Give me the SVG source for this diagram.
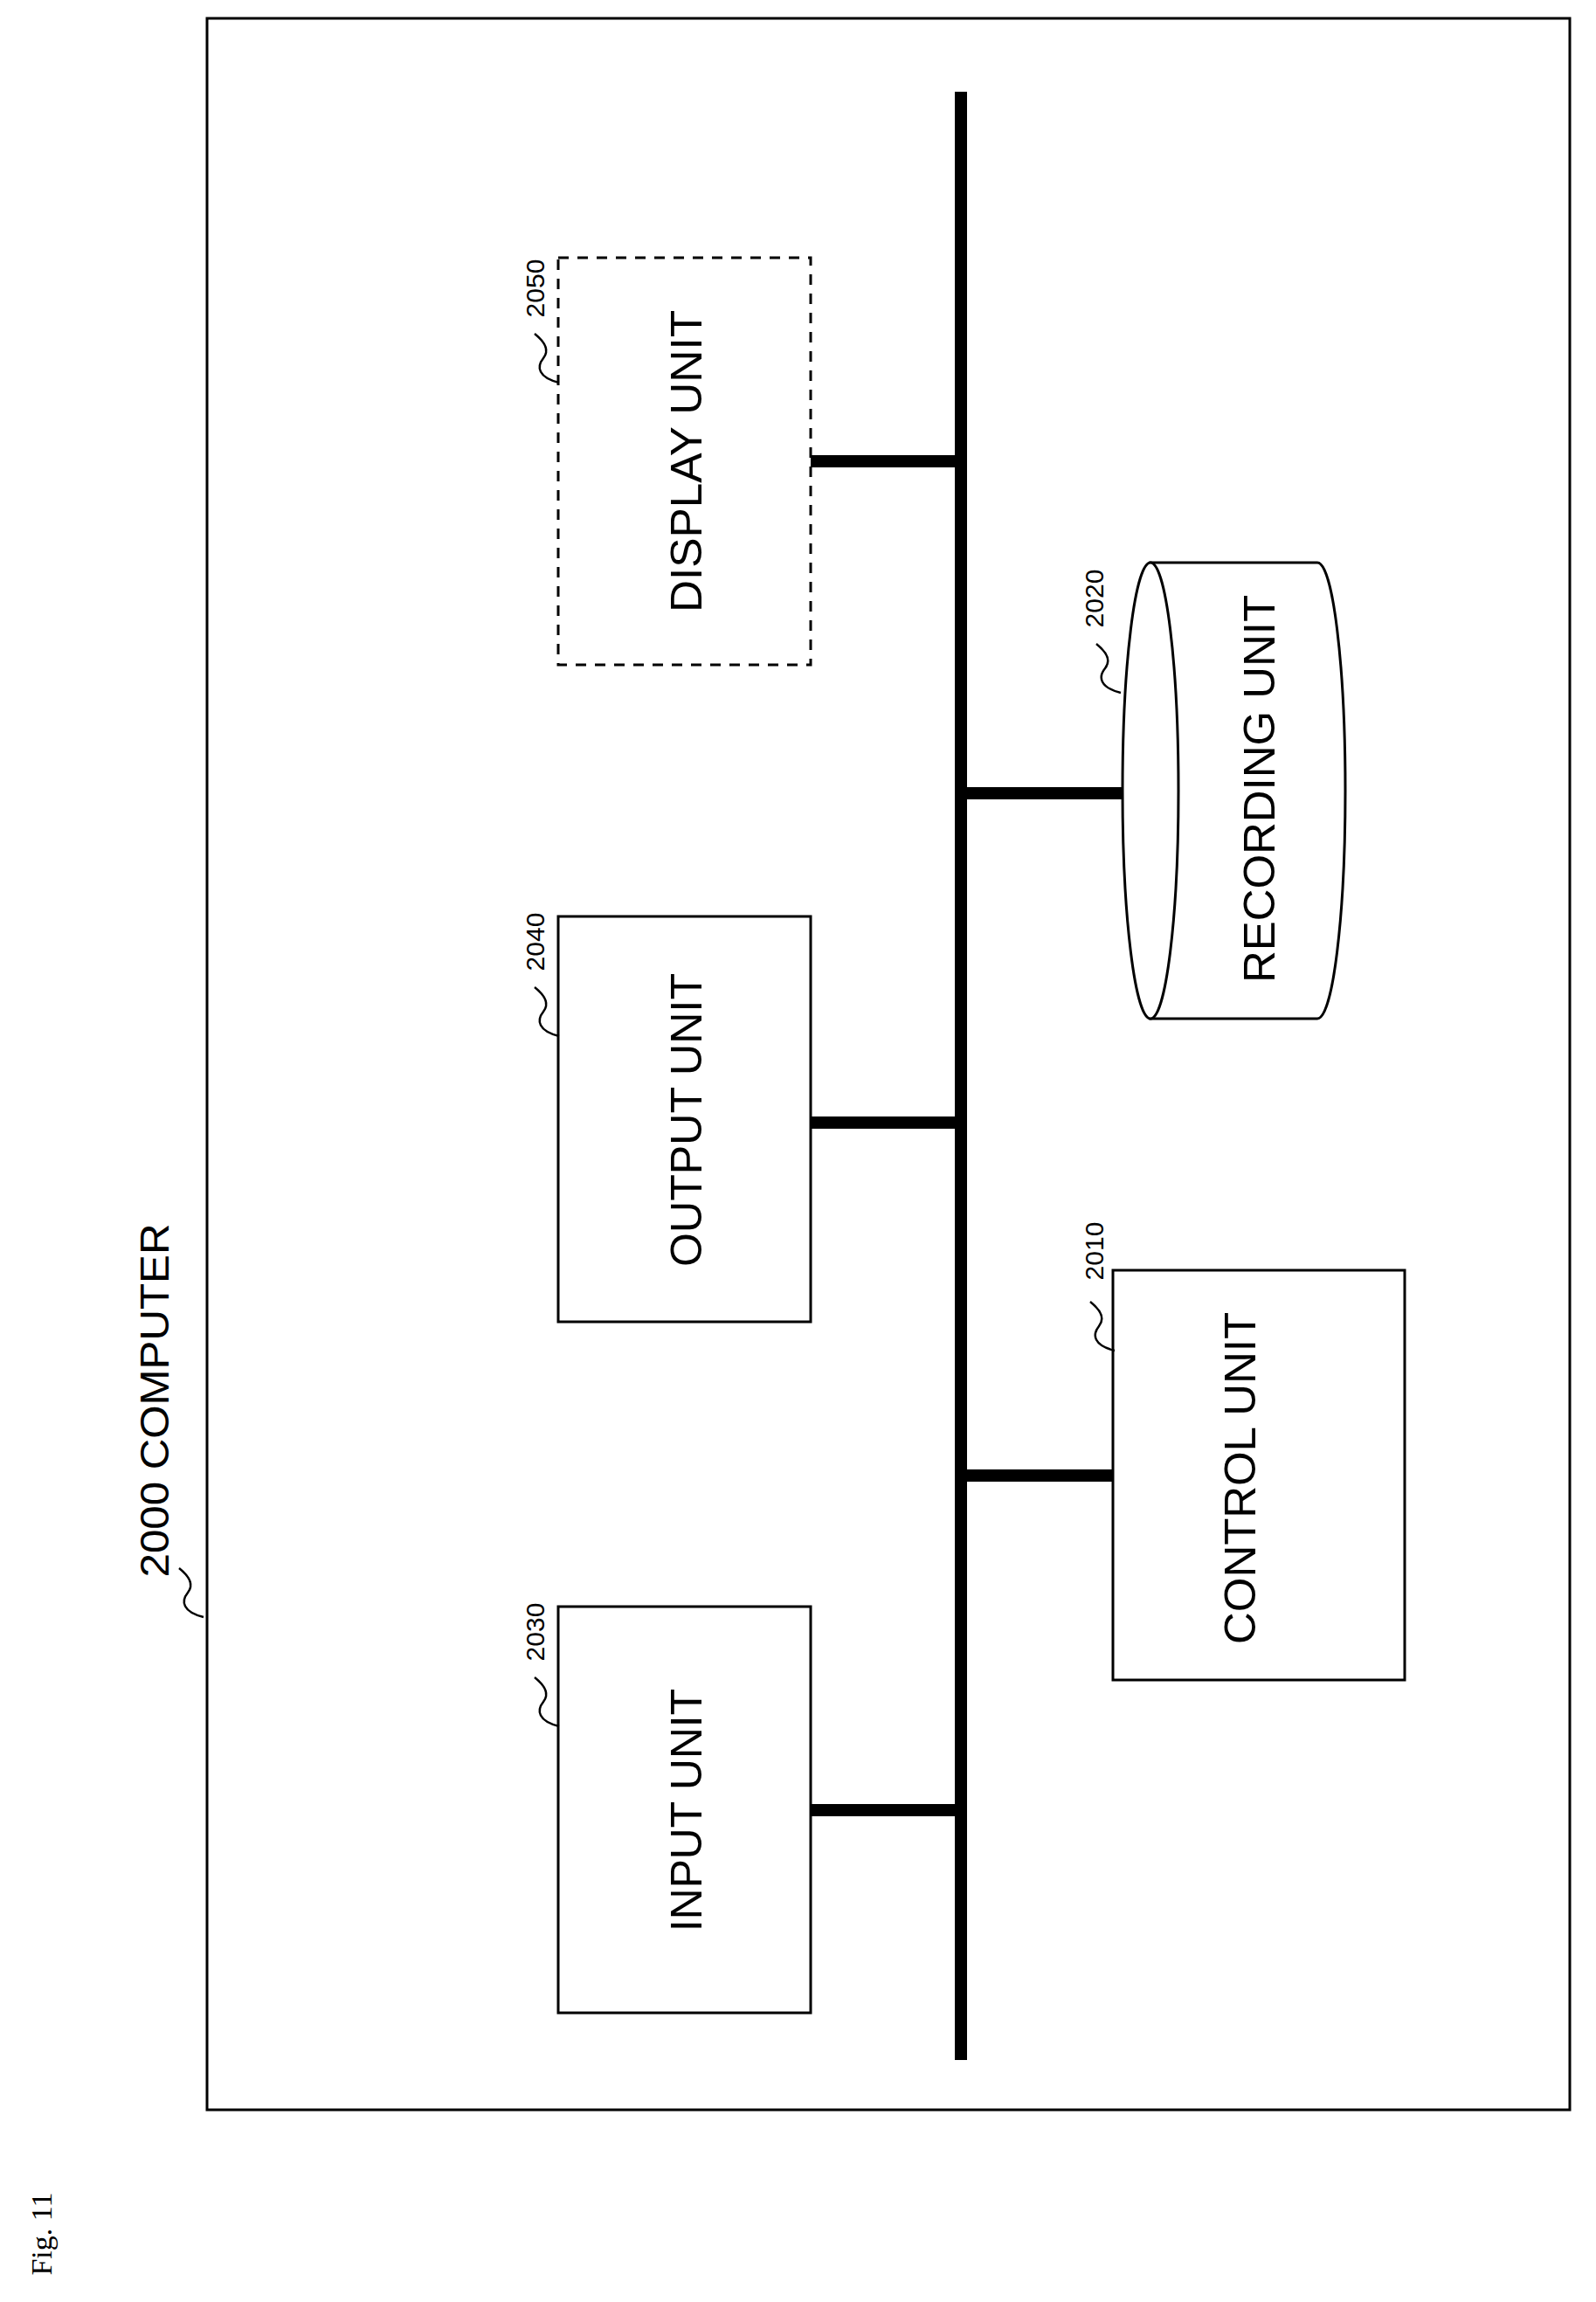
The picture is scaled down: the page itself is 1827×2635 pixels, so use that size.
<svg xmlns="http://www.w3.org/2000/svg" width="1827" height="2635" viewBox="0 0 1827 2635">
<style>
.box{fill:#fff;stroke:#000;stroke-width:3}
.dash{fill:#fff;stroke:#000;stroke-width:3;stroke-dasharray:12,10}
.bus{stroke:#000;stroke-width:14;fill:none}
.sq{fill:none;stroke:#000;stroke-width:2.5}
.t{font-family:"Liberation Sans Narrow","Liberation Sans",Arial,sans-serif;font-size:50px;text-anchor:middle;dominant-baseline:central}
.n{font-family:"Liberation Sans Narrow","Liberation Sans",Arial,sans-serif;font-size:30px;text-anchor:middle;dominant-baseline:central}
</style>
<defs><path id="sq" class="sq" d="M0,0 c10,8 18,18 10,28 c-8,10 -6,22 18,28"/></defs>
<rect x="237" y="21" width="1560" height="2394" fill="none" stroke="#000" stroke-width="3"/>
<text transform="translate(177,1603) rotate(-90)" class="t" style="font-size:46px" textLength="405" lengthAdjust="spacingAndGlyphs">2000 COMPUTER</text>
<use href="#sq" x="205" y="1795"/>
<text transform="translate(47,2557) rotate(-90)" font-family="Liberation Serif,serif" font-size="34" text-anchor="middle" dominant-baseline="central">Fig. 11</text>
<g id="connectors">
<line class="bus" x1="1100" y1="105" x2="1100" y2="2358"/>
<line class="bus" x1="928" y1="528" x2="1100" y2="528"/>
<line class="bus" x1="928" y1="1285" x2="1100" y2="1285"/>
<line class="bus" x1="928" y1="2072" x2="1100" y2="2072"/>
<line class="bus" x1="1100" y1="908" x2="1285" y2="908"/>
<line class="bus" x1="1100" y1="1689" x2="1274" y2="1689"/>
</g>
<g id="display">
<rect class="dash" x="639" y="295" width="289" height="466"/>
<text class="t" transform="translate(786,528) rotate(-90)" textLength="346" lengthAdjust="spacingAndGlyphs">DISPLAY UNIT</text>
<text class="n" transform="translate(612,330) rotate(-90)">2050</text>
<use href="#sq" x="612" y="382"/>
</g>
<g id="output">
<rect class="box" x="639" y="1049" width="289" height="464"/>
<text class="t" transform="translate(786,1282) rotate(-90)" textLength="336" lengthAdjust="spacingAndGlyphs">OUTPUT UNIT</text>
<text class="n" transform="translate(612,1078) rotate(-90)">2040</text>
<use href="#sq" x="612" y="1130"/>
</g>
<g id="input">
<rect class="box" x="639" y="1839" width="289" height="465"/>
<text class="t" transform="translate(786,2072) rotate(-90)" textLength="278" lengthAdjust="spacingAndGlyphs">INPUT UNIT</text>
<text class="n" transform="translate(612,1868) rotate(-90)">2030</text>
<use href="#sq" x="612" y="1920"/>
</g>
<g id="recording">
<path class="box" d="M1317,644 L1508,644 A32,261 0 0 1 1508,1166 L1317,1166 Z"/>
<ellipse class="box" cx="1317" cy="905" rx="32" ry="261"/>
<text class="t" transform="translate(1442,903) rotate(-90)" textLength="444" lengthAdjust="spacingAndGlyphs">RECORDING UNIT</text>
<text class="n" transform="translate(1252,685) rotate(-90)">2020</text>
<use href="#sq" x="1255" y="737"/>
</g>
<g id="control">
<rect class="box" x="1274" y="1454" width="334" height="469"/>
<text class="t" transform="translate(1420,1692) rotate(-90)" textLength="380" lengthAdjust="spacingAndGlyphs">CONTROL UNIT</text>
<text class="n" transform="translate(1252,1432) rotate(-90)">2010</text>
<use href="#sq" x="1248" y="1490"/>
</g>
</svg>
